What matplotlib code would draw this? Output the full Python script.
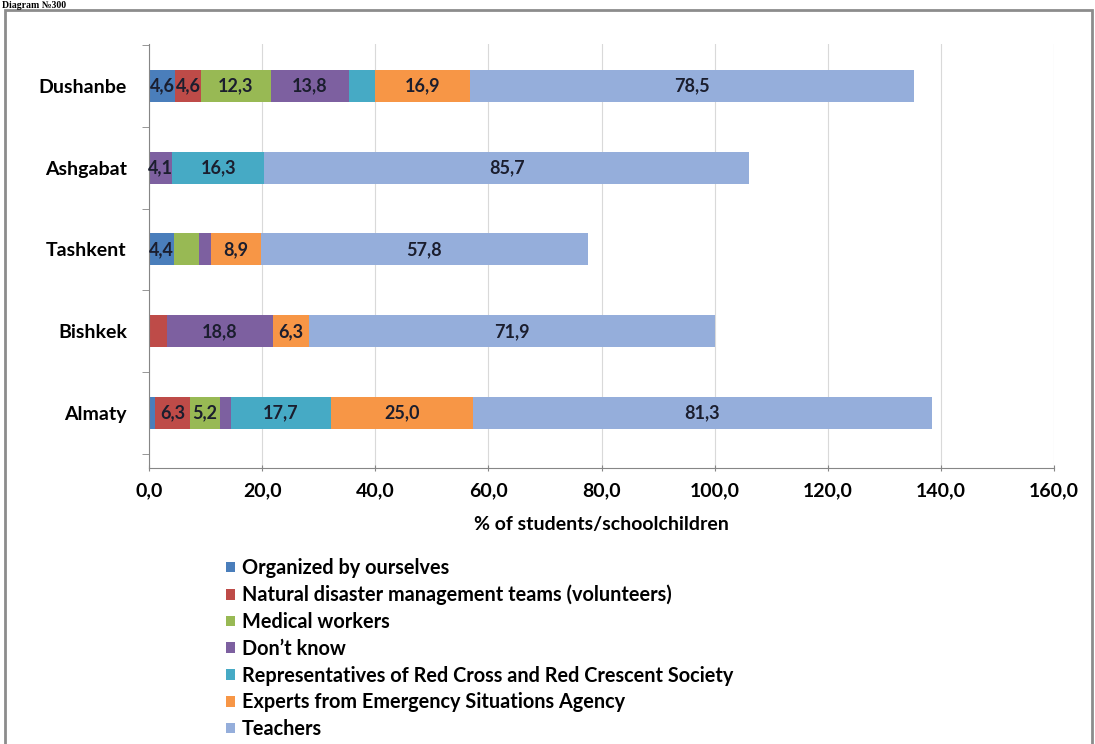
import matplotlib.pyplot as plt
from matplotlib.patches import Rectangle
from matplotlib.ticker import FuncFormatter, FixedLocator
import numpy as np

plt.rcParams['font.family'] = ['Lato', 'DejaVu Sans']

cities = ['Almaty', 'Bishkek', 'Tashkent', 'Ashgabat', 'Dushanbe']
series = ['Organized by ourselves',
          'Natural disaster management teams (volunteers)',
          'Medical workers',
          'Don\u2019t know',
          'Representatives of Red Cross and Red Crescent Society',
          'Experts from Emergency Situations Agency',
          'Teachers']

# values per city, same order as cities
ourselves = np.array([1.0, 0.0, 4.4, 0.0, 4.6])
volunteers = np.array([6.3, 3.1, 0.0, 0.0, 4.6])
medical = np.array([5.2, 0.0, 4.4, 0.0, 12.3])
dont_know = np.array([2.0, 18.8, 2.1, 4.1, 13.8])
red_cross = np.array([17.7, 0.0, 0.0, 16.3, 4.6])
emergency = np.array([25.0, 6.3, 8.9, 0.0, 16.9])
teachers = np.array([81.3, 71.9, 57.8, 85.7, 78.5])

# which segments carry a value label in the original
shown = [
    [False, True, True, False, True, True, True],    # Almaty
    [False, False, False, True, False, True, True],  # Bishkek
    [True, False, False, False, False, True, True],  # Tashkent
    [False, False, False, True, True, False, True],  # Ashgabat
    [True, True, True, True, False, True, True],     # Dushanbe
]

colors = ['#4A7EBB', '#BE4B48', '#98B954', '#7D60A0', '#46AAC5', '#F79646', '#95AEDB']

data = [ourselves, volunteers, medical, dont_know, red_cross, emergency, teachers]

fs = 14

fig = plt.figure(figsize=(10.95, 7.44), dpi=100)
ax = fig.add_axes([149 / 1095, 1 - 468 / 744, (1054 - 149) / 1095, (468 - 44) / 744])

y = np.arange(len(cities))
left = np.zeros(len(cities))
for k, vals in enumerate(data):
    ax.barh(y, vals, left=left, height=0.39, color=colors[k], label=series[k], zorder=2)
    for i, v in enumerate(vals):
        if v > 0 and shown[i][k]:
            ax.text(left[i] + v / 2, y[i], f'{v:.1f}'.replace('.', ','),
                    ha='center', va='center', fontsize=13, fontweight='bold',
                    color='#1B1E2E', zorder=3)
    left = left + vals

ax.set_xlim(0, 160)
ax.set_ylim(-0.67, 4.51)
ax.set_xticks(np.arange(0, 161, 20))
ax.xaxis.set_major_formatter(FuncFormatter(lambda v, p: f'{v:.1f}'.replace('.', ',')))
ax.set_yticks(y)
ax.set_yticklabels(cities)
ax.yaxis.set_minor_locator(FixedLocator(np.arange(-0.5, 4.6, 1.0)))
ax.tick_params(axis='y', which='major', length=0, pad=16, labelsize=fs)
ax.tick_params(axis='y', which='minor', length=5, color='#868686')
ax.tick_params(axis='x', length=5, direction='inout', color='#868686', pad=8, labelsize=fs)
for lab in ax.get_xticklabels() + ax.get_yticklabels():
    lab.set_fontweight('bold')

ax.grid(axis='x', color='#D9D9D9', linewidth=0.8, zorder=0)
ax.set_axisbelow(True)
for s in ['top', 'right']:
    ax.spines[s].set_visible(False)
for s in ['left', 'bottom']:
    ax.spines[s].set_color('#868686')

ax.set_xlabel('% of students/schoolchildren', fontsize=fs, fontweight='bold', labelpad=12)

handles, labels = ax.get_legend_handles_labels()
fig.legend(handles, labels, loc='upper left', bbox_to_anchor=(226 / 1095, 1 - 558 / 744),
           frameon=False, prop={'weight': 'bold', 'size': 14.3},
           handlelength=0.45, handleheight=0.45, handletextpad=0.35, labelspacing=0.34,
           borderaxespad=0, borderpad=0)

fig.patches.append(Rectangle((5 / 1095, -0.05), (1092 - 5) / 1095, 1.05 - 10 / 744,
                             transform=fig.transFigure, fill=False,
                             edgecolor='#8C8C8C', linewidth=2))
fig.text(2 / 1095, 1 - 1 / 744, 'Diagram \u2116300', family='Liberation Serif',
         fontweight='bold', fontsize=7, va='top', ha='left')

fig.savefig('out.png', dpi=100)
